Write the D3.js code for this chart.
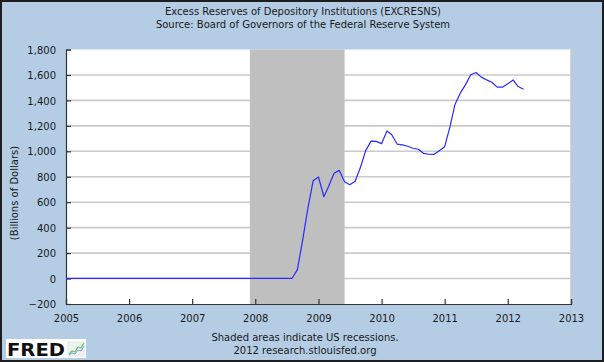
<!DOCTYPE html>
<html>
<head>
<meta charset="utf-8">
<script src="https://cdn.jsdelivr.net/npm/d3@7"></script>
<style>
  html, body { margin: 0; padding: 0; background: #fff; }
  svg { display: block; }
  text { font-family: "DejaVu Sans", Verdana, sans-serif; fill: #1a1a1a; }
</style>
</head>
<body>
<svg id="chart" width="604" height="362"></svg>
<script>
// ---- Data ----
const titleLines = ["Excess Reserves of Depository Institutions (EXCRESNS)",
                    "Source: Board of Governors of the Federal Reserve System"];
const yLabel = "(Billions of Dollars)";
const footLines = ["Shaded areas indicate US recessions.", "2012 research.stlouisfed.org"];
const startMonth = "2005-01";           // first observation (monthly)
const values = [
  // 2005
  1.7, 1.6, 1.5, 1.7, 1.6, 1.7, 1.7, 1.8, 1.8, 1.7, 1.6, 1.9,
  // 2006
  1.8, 1.7, 1.6, 1.6, 1.7, 1.8, 1.7, 1.6, 1.7, 1.6, 1.6, 1.8,
  // 2007
  1.7, 1.6, 1.6, 1.5, 1.6, 1.7, 1.7, 2.0, 1.9, 1.6, 1.7, 1.8,
  // 2008
  1.6, 1.7, 1.8, 1.8, 1.9, 2.1, 1.9, 1.9, 70, 300, 555, 768,
  // 2009
  798, 643, 725, 828, 850, 760, 737, 765, 875, 1005, 1080, 1078,
  // 2010
  1060, 1160, 1130, 1057, 1050, 1040, 1024, 1016, 984, 977, 976, 1005,
  // 2011
  1036, 1194, 1365, 1457, 1522, 1601, 1619, 1583, 1561, 1543, 1504, 1504,
  // 2012
  1530, 1561, 1509, 1488
];
const recessions = [["2007-12-01", "2009-06-01"]];
const xDomain = ["2005-01-01", "2013-01-01"];
const yTicks = [-200, 0, 200, 400, 600, 800, 1000, 1200, 1400, 1600, 1800];
const xTickYears = [2005, 2006, 2007, 2008, 2009, 2010, 2011, 2012, 2013];

// ---- Build ----
const parse = d3.utcParse("%Y-%m-%d");
const start = d3.utcParse("%Y-%m")(startMonth);
const data = values.map((v, i) => ({ date: d3.utcMonth.offset(start, i), value: v }));

const W = 604, H = 362;
const plot = { left: 66, right: 571, top: 49.5, bottom: 304 };

const svg = d3.select("#chart");
svg.append("rect").attr("x", 0).attr("y", 0).attr("width", W).attr("height", H)
  .attr("fill", "#b4cde4");
svg.append("rect").attr("x", 1).attr("y", 1).attr("width", W - 2).attr("height", H - 2)
  .attr("fill", "none").attr("stroke", "#1e1e1e").attr("stroke-width", 2);

const x = d3.scaleUtc().domain(xDomain.map(parse)).range([plot.left, plot.right]);
const y = d3.scaleLinear().domain([-200, 1800]).range([plot.bottom, plot.top]);

// plot background
svg.append("rect").attr("x", plot.left).attr("y", plot.top)
  .attr("width", plot.right - plot.left).attr("height", plot.bottom - plot.top)
  .attr("fill", "#ffffff");

// grid lines
svg.append("g").selectAll("line").data(yTicks.filter(t => t !== -200 && t !== 1800)).join("line")
  .attr("x1", plot.left).attr("x2", plot.right)
  .attr("y1", d => y(d)).attr("y2", d => y(d))
  .attr("stroke", "#cacaca").attr("stroke-width", 1.6);

// right border of plot
svg.append("line").attr("x1", plot.right).attr("x2", plot.right)
  .attr("y1", plot.top).attr("y2", plot.bottom)
  .attr("stroke", "#c8c8c8").attr("stroke-width", 1.5);

// recession shading
svg.append("g").selectAll("rect").data(recessions).join("rect")
  .attr("x", d => x(parse(d[0]))).attr("y", plot.top)
  .attr("width", d => x(parse(d[1])) - x(parse(d[0])))
  .attr("height", plot.bottom - plot.top)
  .attr("fill", "#bfbfbf");

// y axis
const yAxis = d3.axisLeft(y).tickValues(yTicks).tickSize(-5).tickPadding(10)
  .tickFormat(d3.format(","));
const gy = svg.append("g").attr("transform", `translate(${plot.left},0)`).call(yAxis);
gy.select(".domain").attr("stroke", "#333").attr("stroke-width", 1.2);
gy.selectAll(".tick line").attr("stroke", "#333").attr("stroke-width", 1.2);
gy.selectAll(".tick text").attr("font-size", 10).attr("fill", "#1a1a1a")
  .attr("font-family", '"DejaVu Sans", sans-serif').attr("dy", "0.36em");

// x axis
const xAxis = d3.axisBottom(x).tickValues(xTickYears.map(yr => new Date(Date.UTC(yr, 0, 1))))
  .tickSize(-5).tickPadding(11).tickFormat(d3.utcFormat("%Y"));
const gx = svg.append("g").attr("transform", `translate(0,${plot.bottom})`).call(xAxis);
gx.select(".domain").attr("stroke", "#333").attr("stroke-width", 1.2);
gx.selectAll(".tick line").attr("stroke", "#333").attr("stroke-width", 1.2);
gx.selectAll(".tick text").attr("font-size", 10).attr("fill", "#1a1a1a")
  .attr("font-family", '"DejaVu Sans", sans-serif');

// data line
const line = d3.line().x(d => x(d.date)).y(d => y(d.value));
svg.append("path").datum(data).attr("d", line)
  .attr("fill", "none").attr("stroke", "#2a2aff").attr("stroke-width", 1.2)
  .attr("stroke-linejoin", "round");

// titles
svg.append("g").selectAll("text").data(titleLines).join("text")
  .attr("x", 303).attr("y", (d, i) => 15 + i * 13.3)
  .attr("text-anchor", "middle").attr("font-size", 10).text(d => d);

// y label
svg.append("text").attr("transform", "translate(18,193) rotate(-90)")
  .attr("text-anchor", "middle").attr("font-size", 10).text(yLabel);

// footer
svg.append("g").selectAll("text").data(footLines).join("text")
  .attr("x", 305).attr("y", (d, i) => 340.5 + i * 13.5)
  .attr("text-anchor", "middle").attr("font-size", 10).text(d => d);

// FRED logo
const logo = svg.append("g");
logo.append("rect").attr("x", 6).attr("y", 339).attr("width", 80).attr("height", 19).attr("fill", "#ffffff");
logo.append("text").attr("x", 7).attr("y", 356).attr("font-size", 18).attr("font-weight", "bold")
  .attr("textLength", 58).attr("lengthAdjust", "spacingAndGlyphs")
  .style("fill", "#111").text("FRED");
logo.append("rect").attr("x", 68).attr("y", 342).attr("width", 16).attr("height", 14)
  .attr("fill", "#eef2f0").attr("stroke", "#cfd8d6").attr("stroke-width", 0.5);
logo.append("polyline").attr("points", "69,354 72,351 75,352 78,347 81,348 84,343")
  .attr("fill", "none").attr("stroke", "#6fbf6f").attr("stroke-width", 1.2);
logo.append("polyline").attr("points", "69,355 72,353 75,354 78,350 81,351 84,346")
  .attr("fill", "none").attr("stroke", "#7aa6d8").attr("stroke-width", 1);
</script>
</body>
</html>
